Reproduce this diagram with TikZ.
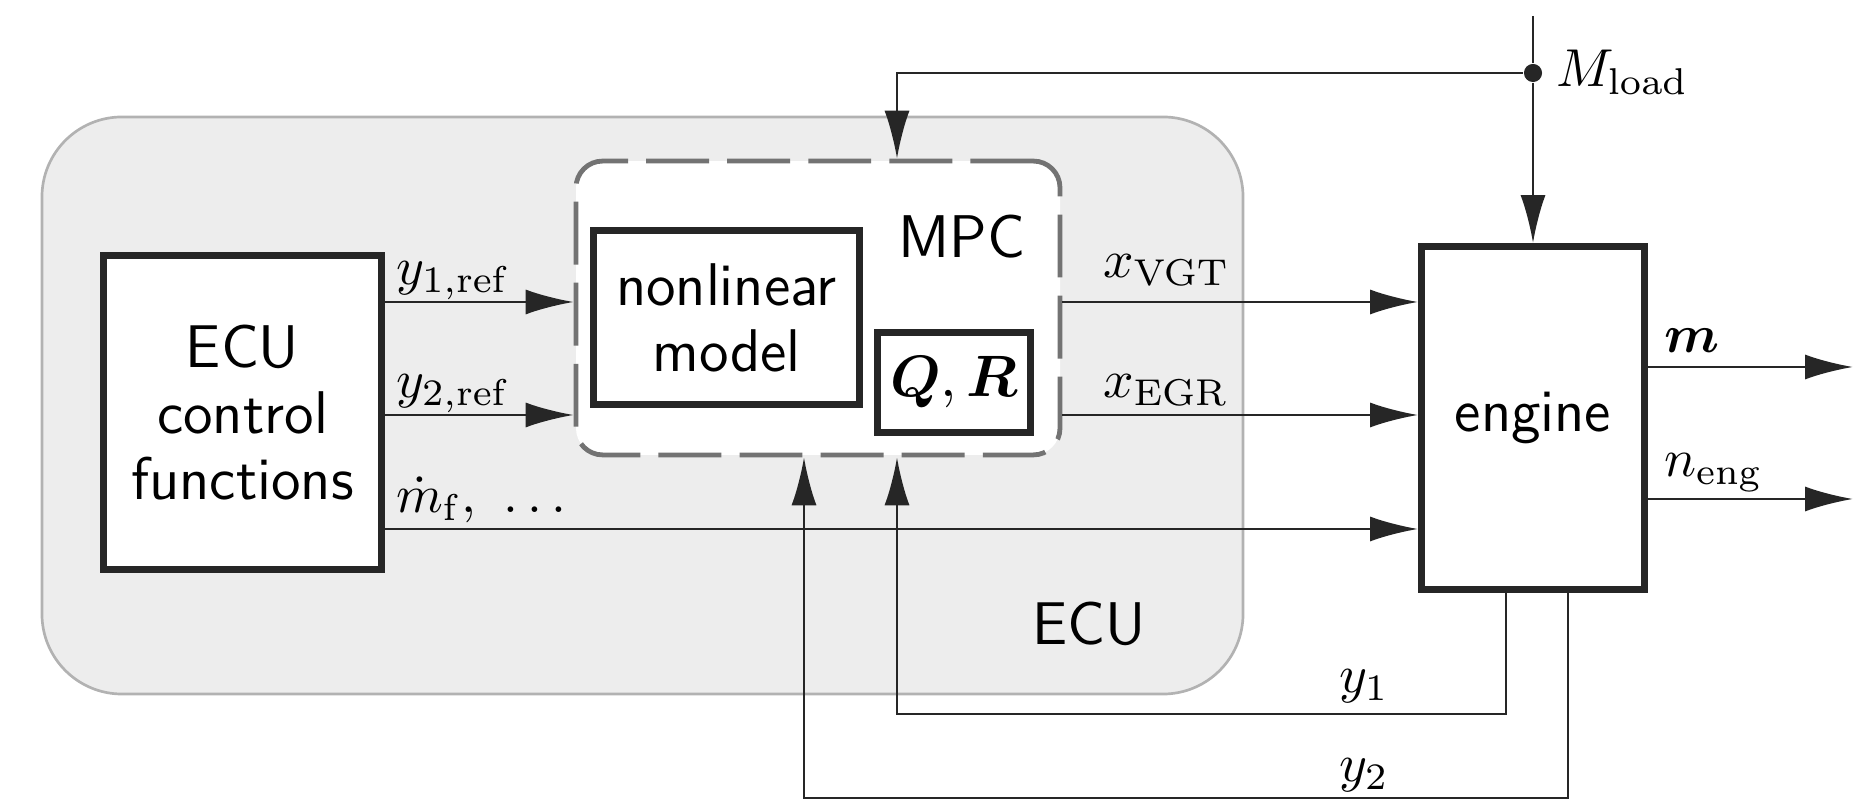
\documentclass[tikz,border=0pt]{standalone}
\usepackage{amsmath,bm}
\usetikzlibrary{arrows.meta}

\tikzset{
  sig/.style={-{Latex[length=9pt,width=4.7pt]}, line width=0.5pt, draw=black!85},
  blk/.style={draw=black!85, line width=1.3pt, fill=white, inner sep=0pt, align=center, font=\fontsize{11.3}{12.4}\sffamily\selectfont},
  ecubg/.style={fill=black!7, draw=black!30, line width=0.5pt, rounded corners=15pt, inner sep=0pt},
  mpcbox/.style={fill=white, draw=black!55, line width=0.9pt, dash pattern=on 11.8pt off 3.4pt, rounded corners=5pt, inner sep=0pt},
  joint/.style={circle, fill=black!85, inner sep=0pt, minimum size=3.4pt},
  lbl/.style={anchor=base west, inner sep=0pt},
  title/.style={anchor=base, inner sep=0pt, font=\fontsize{11.3}{12.4}\sffamily\selectfont},
}

\begin{document}
\begin{tikzpicture}[x=0.1875pt, y=-0.1875pt, font=\fontsize{10.4}{12}\selectfont]
\useasboundingbox (0,0) rectangle (1875,802);

% ECU background
\node[ecubg, minimum width=225.2pt, minimum height=108.2pt] (ecu) at (642.5,405.5) {};
\node[title] (ecutxt) at (1089,645) {ECU};

% blocks
\node[blk, minimum width=52.1pt, minimum height=58.8pt] (ecufun) at (242.5,412.3) {ECU\\control\\functions};
\node[mpcbox, minimum width=90.75pt, minimum height=55.1pt] (mpc) at (818,308) {};
\node[title] (mpctxt) at (962,258) {MPC};
\node[blk, minimum width=49.9pt, minimum height=32.6pt] (nlm) at (726.5,317.5) {nonlinear\\model};
\node[blk, font=\fontsize{11}{12}\selectfont, minimum width=28.7pt, minimum height=18.75pt] (qr) at (954,382.5) {$\bm{Q},\bm{R}$};
\node[blk, minimum width=41.8pt, minimum height=64.3pt] (eng) at (1533,418) {engine};

% levels and columns
\coordinate (lvA) at (0,302);
\coordinate (lvB) at (0,415);
\coordinate (lvC) at (0,529);
\coordinate (lvM) at (0,367);
\coordinate (lvN) at (0,499);
\coordinate (outEnd) at (1853,0);
\coordinate (fbA) at (897,0);
\coordinate (fbB) at (804,0);
\coordinate (y1out) at (1506,714);
\coordinate (y2out) at (1568,798);
\coordinate (mtop) at (1533,16);
\node[joint] (junc) at (1533,73) {};

% signals
\draw[sig] (ecufun.east |- lvA) -- (mpc.west |- lvA);
\draw[sig] (ecufun.east |- lvB) -- (mpc.west |- lvB);
\draw[sig] (ecufun.east |- lvC) -- (eng.west |- lvC);
\draw[sig] (mpc.east |- lvA) -- (eng.west |- lvA);
\draw[sig] (mpc.east |- lvB) -- (eng.west |- lvB);
\draw[sig] (eng.east |- lvM) -- (outEnd |- lvM);
\draw[sig] (eng.east |- lvN) -- (outEnd |- lvN);
\draw[line width=0.5pt, draw=black!85] (mtop) -- (junc);
\draw[sig] (junc) -- (eng.north);
\draw[sig] (junc) -| (fbA |- mpc.north);
\draw[sig] (eng.south -| y1out) |- (fbA |- y1out) -- (fbA |- mpc.south);
\draw[sig] (eng.south -| y2out) |- (fbB |- y2out) -- (fbB |- mpc.south);

% labels
\node[lbl] (ly1r) at (395,285) {$y_{1,\mathrm{ref}}$};
\node[lbl] (ly2r) at (395,398) {$y_{2,\mathrm{ref}}$};
\node[lbl] (lmf) at (395,513) {$\dot{m}_\mathrm{f},\ \ldots$};
\node[lbl] (lvgt) at (1102,278) {$x_\mathrm{VGT}$};
\node[lbl] (legr) at (1102,398) {$x_\mathrm{EGR}$};
\node[lbl] (lm) at (1663,353) {$\bm{m}$};
\node[lbl] (lneng) at (1663,477) {$n_\mathrm{eng}$};
\node[lbl] (lload) at (1555,87) {$M_\mathrm{load}$};
\node[lbl] (ly1) at (1338,693) {$y_1$};
\node[lbl] (ly2) at (1338,782) {$y_2$};
\end{tikzpicture}
\end{document}
